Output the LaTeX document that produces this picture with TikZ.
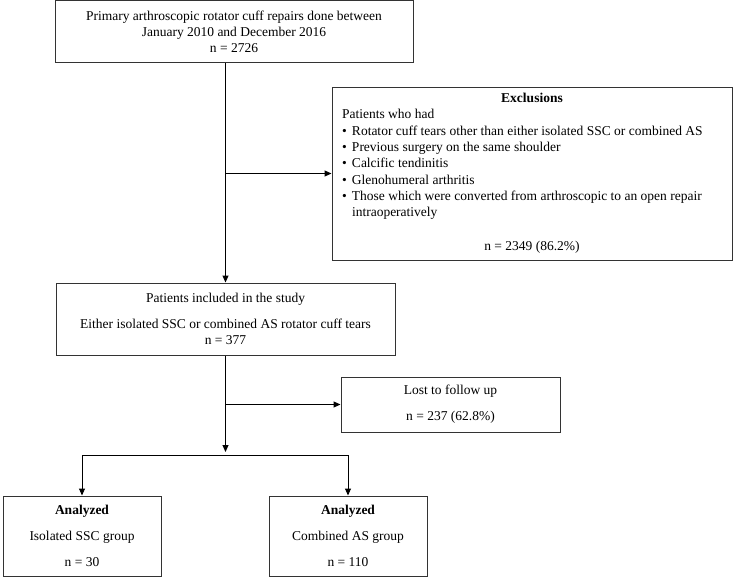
\documentclass[tikz,border=0pt]{standalone}
\usepackage{fontspec}
\setmainfont{Liberation Serif}
\usetikzlibrary{arrows.meta}

\newcommand{\exclitem}[1]{\hangindent=10pt\hangafter=1\noindent\makebox[10pt][l]{\textbullet}#1\par}

\tikzset{
  box/.style={draw=black!80, line width=1pt, inner sep=0pt, align=center, font=\fontsize{13.5}{16.3}\selectfont},
  arr/.style={draw=black, line width=1pt, -{Triangle[length=7pt,width=6pt]}},
}

\begin{document}
\begin{tikzpicture}[x=1pt,y=-1pt]
\useasboundingbox (0,0) rectangle (733,578);

\node[box, minimum width=358, minimum height=62] (repairs) at (234,32) {Primary arthroscopic rotator cuff repairs done between\\January 2010 and December 2016\\n = 2726};

\node[box, minimum width=400, minimum height=173, text width=380pt, inner xsep=10pt, align=none] (excl) at (532,173.5) {\parindent=0pt\raggedright
{\centering\bfseries Exclusions\par}
Patients who had\par
\exclitem{Rotator cuff tears other than either isolated SSC or combined AS}
\exclitem{Previous surgery on the same shoulder}
\exclitem{Calcific tendinitis}
\exclitem{Glenohumeral arthritis}
\exclitem{Those which were converted from arthroscopic to an open repair\newline intraoperatively}
\vspace{17.7pt}
{\centering n = 2349 (86.2\%)\par}};

\node[box, minimum width=339, minimum height=72] (incl) at (225.5,319) {Patients included in the study\\[10pt]Either isolated SSC or combined AS rotator cuff tears\\n = 377};

\node[box, minimum width=219, minimum height=55] (lost) at (450.5,404.5) {Lost to follow up\\[9.7pt]n = 237 (62.8\%)};

\node[box, minimum width=158, minimum height=80] (iso) at (82,536) {\textbf{Analyzed}\\[10pt]Isolated SSC group\\[10pt]n = 30};
\node[box, minimum width=158, minimum height=80] (comb) at (348,536) {\textbf{Analyzed}\\[10pt]Combined AS group\\[10pt]n = 110};

% connectors
\coordinate (fork) at (225.5,455);
\draw[arr] (repairs.south -| incl.north) -- (incl.north);
\draw[arr] (incl.north |- excl.west) -- (excl.west);
\draw[arr] (incl.south |- lost.west) -- (lost.west);
\draw[arr, shorten >=3pt] (incl.south) -- (fork);
\draw[arr] (fork) -| (iso.north);
\draw[arr] (fork) -| (comb.north);

\end{tikzpicture}
\end{document}
